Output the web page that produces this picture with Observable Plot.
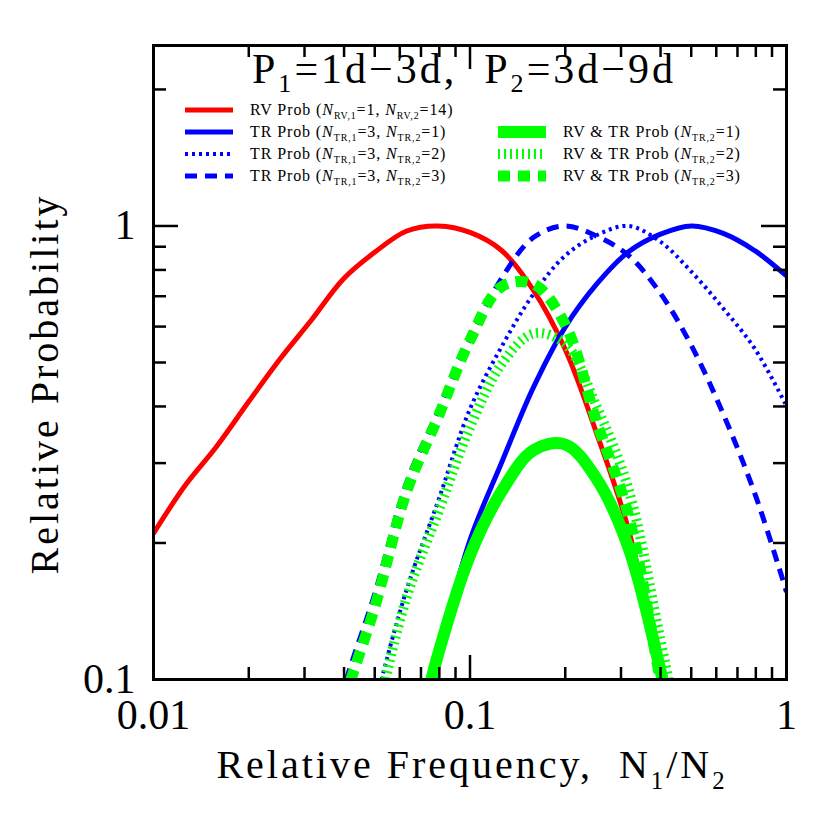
<!DOCTYPE html>
<html><head><meta charset="utf-8">
<script src="https://cdn.jsdelivr.net/npm/d3@7"></script>
<script src="https://cdn.jsdelivr.net/npm/@observablehq/plot@0.6"></script>
<style>body{margin:0;background:#fff} svg{display:block}</style>
</head><body><div id="chart"></div>
<script>
// ---- data ----
const xGrid = [0.0100,0.0126,0.0158,0.0200,0.0251,0.0316,0.0398,0.0501,0.0631,0.0794,0.1000,0.1259,0.1585,0.1995,0.2512,0.3162,0.3981,0.5012,0.6310,0.7943,1.0000];
const rvProb   = [0.21,0.268,0.326,0.41,0.509,0.621,0.764,0.876,0.975,1.0,0.968,0.883,0.722,0.536,0.349,0.215,0.104,0.045,null,null,null];
const trProb1  = [null,null,null,null,null,null,null,null,0.06,0.114,0.203,0.301,0.44,0.597,0.744,0.876,0.958,1.0,0.963,0.882,0.776];
const trProb2  = [null,null,null,null,null,null,0.045,0.088,0.158,0.248,0.395,0.542,0.707,0.859,0.954,1.0,0.925,0.792,0.658,0.536,0.401];
const trProb3  = [null,null,null,null,null,0.05,0.095,0.155,0.272,0.391,0.563,0.767,0.943,1.0,0.95,0.862,0.713,0.544,0.385,0.257,0.156];
const bothProb1= [null,null,null,null,null,null,null,null,0.06,0.114,0.188,0.26,0.32,0.33,0.277,0.196,0.106,0.05,null,null,null];
const bothProb2= [null,null,null,null,null,null,0.04,0.08,0.152,0.234,0.36,0.496,0.579,0.55,0.40,0.264,0.124,0.055,null,null,null];
const bothProb3= [null,null,null,null,null,0.045,0.088,0.145,0.26,0.38,0.56,0.735,0.745,0.608,0.37,0.231,0.101,0.045,null,null,null];

const xMajor = [0.01, 0.1, 1];
const xMinor = [0.02,0.03,0.04,0.05,0.06,0.07,0.08,0.09,0.2,0.3,0.4,0.5,0.6,0.7,0.8,0.9];
const yMajor = [0.1, 1];
const yMinor = [0.2,0.3,0.4,0.5,0.6,0.7,0.8,0.9,2];
const xTickLabels = ["0.01","0.1","1"];
const yTickLabels = ["0.1","1"];

// ---- styles ----
const series = [
  {ys: rvProb,    stroke:"#ff0000", width:5,  dash:null},
  {ys: trProb1,   stroke:"#0000ff", width:5,  dash:null},
  {ys: trProb2,   stroke:"#0000ff", width:4,  dash:"3 4"},
  {ys: trProb3,   stroke:"#0000ff", width:5,  dash:"12 8"},
  {ys: bothProb1, stroke:"#00ff00", width:12, dash:null},
  {ys: bothProb2, stroke:"#00ff00", width:10, dash:"2 4"},
  {ys: bothProb3, stroke:"#00ff00", width:11, dash:"12 8"}
];

const W = 830, H = 830, mL = 153, mR = 44, mT = 45, mB = 151;
const frameH = H - mT - mB, frameW = W - mL - mR;
const FONT = "Liberation Serif";

const lineMarks = series.map(s => Plot.line(
  xGrid.map((x, i) => ({x, y: s.ys[i]})).filter(d => d.y != null),
  {x: "x", y: "y", stroke: s.stroke, strokeWidth: s.width, strokeDasharray: s.dash,
   curve: "catmull-rom", clip: true, strokeLinejoin: "miter", strokeLinecap: "butt"}
));

const tickOpts = {stroke: "black", strokeWidth: 2.5};
const chart = Plot.plot({
  width: W, height: H,
  marginLeft: mL, marginRight: mR, marginTop: mT, marginBottom: mB,
  style: {fontFamily: FONT, background: "white"},
  x: {type: "log", domain: [0.01, 1], axis: null},
  y: {type: "log", domain: [0.1, 2.5], axis: null},
  marks: [
    ...lineMarks,
    Plot.tickX(xMajor, {x: d => d, insetTop: frameH - 24, ...tickOpts}),
    Plot.tickX(xMinor, {x: d => d, insetTop: frameH - 12, ...tickOpts}),
    Plot.tickX(xMajor, {x: d => d, insetBottom: frameH - 24, ...tickOpts}),
    Plot.tickX(xMinor, {x: d => d, insetBottom: frameH - 12, ...tickOpts}),
    Plot.tickY(yMajor, {y: d => d, insetRight: frameW - 25, ...tickOpts}),
    Plot.tickY(yMinor, {y: d => d, insetRight: frameW - 13, ...tickOpts}),
    Plot.tickY(yMajor, {y: d => d, insetLeft: frameW - 25, ...tickOpts}),
    Plot.tickY(yMinor, {y: d => d, insetLeft: frameW - 13, ...tickOpts}),
    Plot.frame({stroke: "black", strokeWidth: 3}),
    Plot.text(xMajor, {x: d => d, frameAnchor: "bottom", dy: 36, text: (d, i) => xTickLabels[i],
      fontSize: 42, fill: "black", lineAnchor: "middle"}),
    Plot.text(yMajor, {y: d => d, frameAnchor: "left", dx: -18, text: (d, i) => yTickLabels[i],
      fontSize: 42, fill: "black", textAnchor: "end", lineAnchor: "middle"})
  ]
});
document.getElementById("chart").appendChild(chart);

// ---- titles & legend ----
const svg = d3.select(chart);
function richText(g, x, y, size, parts, anchor, shift) {
  const sh = shift || 0.28;
  const t = g.append("text").attr("x", x).attr("y", y).attr("font-size", size)
    .attr("font-family", FONT).attr("fill", "black").attr("text-anchor", anchor || "start");
  for (const p of parts) {
    const ts = t.append("tspan").text(p.t);
    if (p.sub) ts.attr("font-size", size * 0.62).attr("dy", size * sh);
    if (p.after) ts.attr("dy", -size * sh);
    if (p.it) ts.attr("font-style", "italic");
  }
  return t;
}
// main title
richText(svg, 464, 83, 42, [
  {t: "P"}, {t: "1", sub: true}, {t: "=1d\u22123d,  P", after: true}, {t: "2", sub: true}, {t: "=3d\u22129d", after: true}
], "middle", 0.22).attr("letter-spacing", 3);
// x title
richText(svg, 472, 778, 40, [
  {t: "Relative Frequency,  N"}, {t: "1", sub: true}, {t: "/N", after: true}, {t: "2", sub: true}
], "middle").attr("letter-spacing", 3);
// y title
svg.append("text").attr("transform", "translate(58,384) rotate(-90)")
  .attr("text-anchor", "middle").attr("font-size", 40).attr("font-family", FONT)
  .attr("letter-spacing", 3).text("Relative Probability");

// legend
const legend = [
  {col: 0, row: 0, s: 0, parts: [{t:"RV Prob ("},{t:"N",it:true},{t:"RV,1",sub:true},{t:"=1, ",after:true},{t:"N",it:true},{t:"RV,2",sub:true},{t:"=14)",after:true}]},
  {col: 0, row: 1, s: 1, parts: [{t:"TR Prob ("},{t:"N",it:true},{t:"TR,1",sub:true},{t:"=3, ",after:true},{t:"N",it:true},{t:"TR,2",sub:true},{t:"=1)",after:true}]},
  {col: 0, row: 2, s: 2, parts: [{t:"TR Prob ("},{t:"N",it:true},{t:"TR,1",sub:true},{t:"=3, ",after:true},{t:"N",it:true},{t:"TR,2",sub:true},{t:"=2)",after:true}]},
  {col: 0, row: 3, s: 3, parts: [{t:"TR Prob ("},{t:"N",it:true},{t:"TR,1",sub:true},{t:"=3, ",after:true},{t:"N",it:true},{t:"TR,2",sub:true},{t:"=3)",after:true}]},
  {col: 1, row: 1, s: 4, parts: [{t:"RV & TR Prob ("},{t:"N",it:true},{t:"TR,2",sub:true},{t:"=1)",after:true}]},
  {col: 1, row: 2, s: 5, parts: [{t:"RV & TR Prob ("},{t:"N",it:true},{t:"TR,2",sub:true},{t:"=2)",after:true}]},
  {col: 1, row: 3, s: 6, parts: [{t:"RV & TR Prob ("},{t:"N",it:true},{t:"TR,2",sub:true},{t:"=3)",after:true}]}
];
const colX = [185, 498], rowY = [110, 132, 154, 176];
for (const e of legend) {
  const s = series[e.s];
  const x0 = colX[e.col], y0 = rowY[e.row];
  svg.append("line").attr("x1", x0).attr("x2", x0 + 48).attr("y1", y0).attr("y2", y0)
    .attr("stroke", s.stroke).attr("stroke-width", s.width).attr("stroke-dasharray", s.dash);
  richText(svg, x0 + 65, y0 + 5, 16, e.parts).attr("letter-spacing", 0.9);
}
</script>
</body></html>
